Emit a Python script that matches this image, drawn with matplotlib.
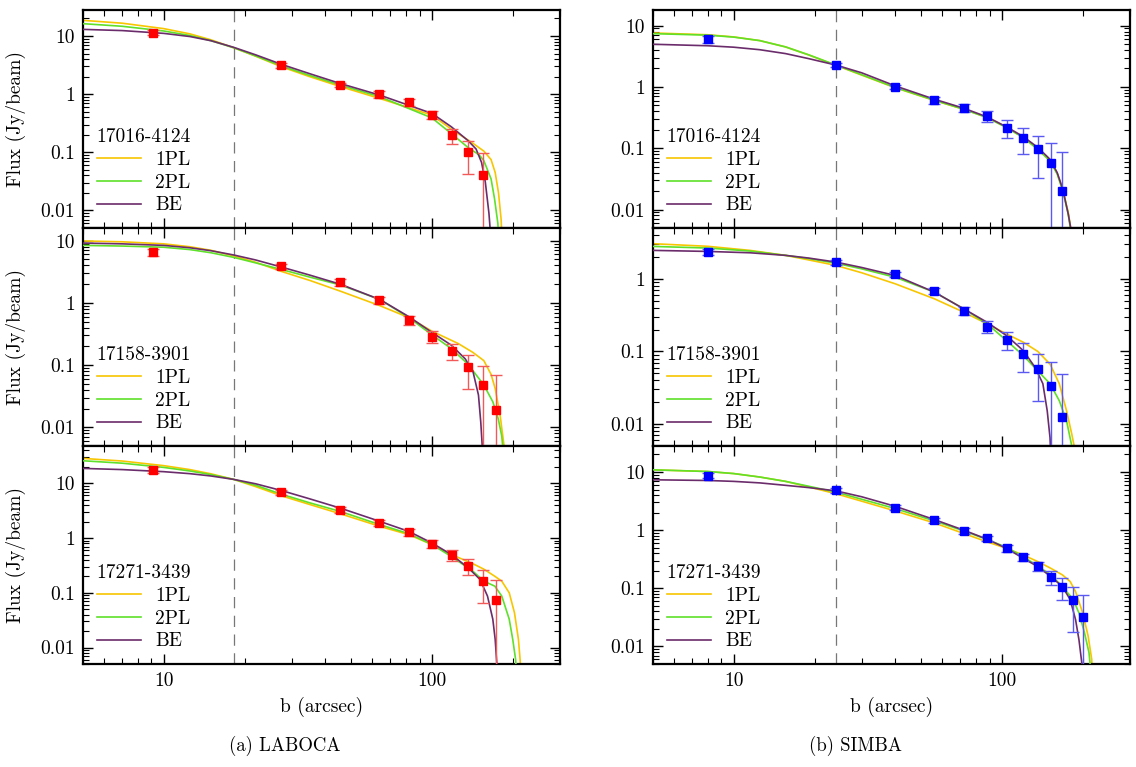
import matplotlib
matplotlib.use("Agg")
import matplotlib.pyplot as plt
from matplotlib.ticker import LogLocator, FuncFormatter, NullFormatter

plt.rcParams['font.family'] = 'serif'
plt.rcParams['font.serif'] = ['cmr10', 'DejaVu Serif']
plt.rcParams['mathtext.fontset'] = 'cm'
plt.rcParams['axes.formatter.use_mathtext'] = True

# ---- LABOCA 17016-4124 ----
la1_b = [9.1, 27.3, 45.5, 63.7, 81.9, 100.1, 118.3, 136.5, 154.7]
la1_f = [11.4, 3.14, 1.45, 1.0, 0.72, 0.44, 0.198, 0.1, 0.041]
la1_e = [1.1, 0.33, 0.13, 0.13, 0.1, 0.065, 0.057, 0.057, 0.055]
la1_1pl_b = [5, 7, 10, 12.5, 15, 18.2, 22, 27.5, 35, 45.6, 64, 100, 118, 140, 156, 166, 172, 177, 181, 183]
la1_1pl_f = [18.6, 16.6, 13.4, 10.9, 8.6, 6.3, 4.5, 2.95, 2.0, 1.35, 0.84, 0.436, 0.25, 0.15, 0.105, 0.075, 0.045, 0.02, 0.007, 0.002]
la1_2pl_b = [5, 7, 10, 12.5, 15, 18.2, 22, 27.5, 35, 45.6, 64, 100, 118, 136, 150, 156, 166, 171, 176, 178]
la1_2pl_f = [16.3, 14.7, 12.2, 10.2, 8.3, 6.3, 4.55, 3.05, 2.1, 1.43, 0.9, 0.39, 0.21, 0.122, 0.09, 0.072, 0.035, 0.016, 0.006, 0.002]
la1_be_b = [5, 7, 10, 12.5, 15, 18.2, 22, 27.5, 35, 45.6, 64, 100, 118, 136, 146, 153, 158, 163, 166]
la1_be_f = [13.0, 12.4, 11.1, 9.8, 8.3, 6.4, 4.75, 3.25, 2.25, 1.52, 0.96, 0.466, 0.275, 0.16, 0.114, 0.067, 0.031, 0.009, 0.003]

# ---- LABOCA 17158-3901 ----
la2_b = [9.1, 27.3, 45.5, 63.7, 81.9, 100.1, 118.3, 136.5, 154.7, 172.9]
la2_f = [6.5, 3.9, 2.14, 1.1, 0.53, 0.288, 0.169, 0.094, 0.047, 0.019]
la2_e = [0.8, 0.37, 0.28, 0.14, 0.09, 0.06, 0.05, 0.052, 0.05, 0.05]
la2_1pl_b = [5, 7, 10, 12.5, 15, 18.2, 22, 27.5, 35, 45.6, 64, 82, 100, 125, 142, 156, 166, 172, 179.5, 185, 188, 190]
la2_1pl_f = [9.9, 9.6, 8.9, 8.0, 7.0, 5.7, 4.5, 3.2, 2.3, 1.54, 0.9, 0.58, 0.35, 0.223, 0.16, 0.118, 0.071, 0.042, 0.0154, 0.0056, 0.003, 0.001]
la2_2pl_b = [5, 7, 10, 12.5, 15, 18.2, 22, 27.5, 35, 45.6, 64, 82, 100, 118, 136, 156, 168.6, 176.6, 182, 187]
la2_2pl_f = [8.4, 8.2, 7.85, 7.2, 6.4, 5.4, 4.4, 3.44, 2.6, 1.94, 1.13, 0.58, 0.306, 0.184, 0.104, 0.048, 0.0256, 0.0136, 0.0072, 0.002]
la2_be_b = [5, 7, 10, 12.5, 15, 18.2, 22, 27.5, 35, 45.6, 64, 82, 100, 118, 133, 142, 149, 152, 155]
la2_be_f = [9.15, 8.9, 8.4, 7.7, 6.9, 5.9, 4.9, 3.76, 2.8, 1.99, 1.13, 0.6, 0.335, 0.209, 0.126, 0.08, 0.033, 0.012, 0.003]

# ---- LABOCA 17271-3439 ----
la3_b = [9.1, 27.3, 45.5, 63.7, 81.9, 100.1, 118.3, 136.5, 154.7, 172.9]
la3_f = [17.5, 6.86, 3.27, 1.87, 1.29, 0.79, 0.49, 0.314, 0.163, 0.074]
la3_e = [2.4, 0.75, 0.37, 0.23, 0.18, 0.14, 0.11, 0.1, 0.097, 0.095]
la3_1pl_b = [5, 7, 10, 12.5, 15, 18.2, 22, 27.5, 35, 45.6, 64, 82, 100, 118, 142, 156, 171.5, 182, 194, 203, 210, 213, 216]
la3_1pl_f = [28.5, 25.5, 21, 17.8, 14.9, 11.8, 8.7, 5.9, 4.1, 2.77, 1.63, 1.15, 0.76, 0.5, 0.34, 0.27, 0.2, 0.163, 0.1, 0.043, 0.014, 0.006, 0.002]
la3_2pl_b = [5, 7, 10, 12.5, 15, 18.2, 22, 27.5, 35, 45.6, 64, 82, 100, 118, 142, 156, 171.5, 182, 194, 200, 205, 208]
la3_2pl_f = [25.8, 23.3, 19.5, 16.8, 14.4, 11.8, 9.2, 6.3, 4.4, 3.05, 1.75, 1.2, 0.76, 0.46, 0.248, 0.163, 0.132, 0.087, 0.033, 0.014, 0.006, 0.002]
la3_be_b = [5, 7, 10, 12.5, 15, 18.2, 22, 27.5, 35, 45.6, 64, 82, 100, 118, 136.5, 151, 161, 168.5, 172, 175]
la3_be_f = [18.7, 17.8, 16.3, 15.0, 13.6, 11.8, 9.8, 7.36, 5.2, 3.51, 2.01, 1.32, 0.81, 0.5, 0.285, 0.175, 0.087, 0.033, 0.014, 0.004]

# ---- SIMBA 17016-4124 ----
si1_b = [8, 24, 40, 56, 72, 88, 104, 120, 136, 152, 168]
si1_f = [6.0, 2.28, 1.0, 0.614, 0.46, 0.337, 0.217, 0.146, 0.096, 0.057, 0.0197]
si1_e = [0.7, 0.2, 0.09, 0.08, 0.07, 0.07, 0.068, 0.065, 0.063, 0.064, 0.066]
si1_1pl_b = [5, 8, 10, 12.5, 15.6, 19, 24, 30, 40, 56, 72, 88, 104, 120, 136, 151, 160.6, 168.5, 176.6, 181, 183]
si1_1pl_f = [7.6, 7.1, 6.55, 5.7, 4.5, 3.33, 2.26, 1.56, 0.97, 0.6, 0.432, 0.318, 0.22, 0.15, 0.097, 0.063, 0.039, 0.021, 0.009, 0.0045, 0.002]
si1_2pl_b = [5, 8, 10, 12.5, 15.6, 19, 24, 30, 40, 56, 72, 88, 104, 120, 136, 151, 160.6, 168.5, 176.6, 181, 183]
si1_2pl_f = [7.4, 7.0, 6.5, 5.7, 4.5, 3.35, 2.28, 1.58, 0.98, 0.606, 0.433, 0.316, 0.217, 0.149, 0.096, 0.062, 0.038, 0.02, 0.0084, 0.004, 0.002]
si1_be_b = [5, 8, 10, 12.5, 15.6, 19, 24, 30, 40, 56, 72, 88, 104, 120, 136, 151, 160.6, 168.5, 176.6, 182, 184]
si1_be_f = [4.97, 4.7, 4.45, 4.05, 3.5, 2.9, 2.28, 1.7, 1.04, 0.63, 0.45, 0.324, 0.223, 0.155, 0.103, 0.066, 0.04, 0.0215, 0.0084, 0.004, 0.002]

# ---- SIMBA 17158-3901 ----
si2_b = [8, 24, 40, 56, 72, 88, 104, 120, 136, 152, 168]
si2_f = [2.33, 1.7, 1.15, 0.69, 0.366, 0.22, 0.144, 0.092, 0.057, 0.033, 0.0124]
si2_e = [0.2, 0.14, 0.1, 0.065, 0.045, 0.04, 0.04, 0.04, 0.036, 0.038, 0.037]
si2_1pl_b = [5, 8, 11.5, 15.6, 19, 24, 30, 40, 56, 72, 88, 104, 120, 136, 151, 163.5, 174, 182, 188, 190]
si2_1pl_f = [3.04, 2.8, 2.46, 2.1, 1.82, 1.53, 1.21, 0.853, 0.53, 0.347, 0.24, 0.174, 0.134, 0.1, 0.067, 0.036, 0.0153, 0.0073, 0.004, 0.002]
si2_2pl_b = [5, 8, 11.5, 15.6, 19, 24, 30, 40, 56, 72, 88, 104, 120, 136, 151, 163.5, 174, 182, 185]
si2_2pl_f = [2.79, 2.65, 2.41, 2.1, 1.9, 1.64, 1.37, 1.05, 0.655, 0.386, 0.24, 0.141, 0.088, 0.054, 0.036, 0.021, 0.0111, 0.005, 0.002]
si2_be_b = [5, 8, 11.5, 15.6, 19, 24, 30, 40, 56, 72, 88, 104, 120, 133, 142, 147.4, 151, 153]
si2_be_f = [2.46, 2.38, 2.28, 2.1, 1.93, 1.7, 1.43, 1.11, 0.655, 0.386, 0.252, 0.165, 0.103, 0.06, 0.036, 0.0153, 0.0065, 0.002]

# ---- SIMBA 17271-3439 ----
si3_b = [8, 24, 40, 56, 72, 88, 104, 120, 136, 152, 168, 184, 200]
si3_f = [8.7, 4.83, 2.44, 1.48, 0.97, 0.72, 0.486, 0.341, 0.242, 0.159, 0.107, 0.062, 0.032]
si3_e = [0.8, 0.5, 0.24, 0.15, 0.12, 0.08, 0.06, 0.05, 0.045, 0.043, 0.045, 0.044, 0.045]
si3_1pl_b = [5, 8, 10, 12.5, 15.6, 19, 24, 30, 40, 56, 72, 88, 104, 120, 136, 152, 168, 179.5, 188, 200, 209.5, 216, 218]
si3_1pl_f = [10.9, 10.2, 9.4, 8.2, 6.9, 5.55, 4.24, 3.15, 2.14, 1.33, 0.877, 0.63, 0.486, 0.374, 0.288, 0.221, 0.17, 0.131, 0.088, 0.0376, 0.015, 0.006, 0.002]
si3_2pl_b = [5, 8, 10, 12.5, 15.6, 19, 24, 30, 40, 56, 72, 88, 104, 120, 136, 152, 168, 184, 193.6, 203, 211, 214]
si3_2pl_f = [10.9, 10.2, 9.4, 8.2, 6.9, 5.7, 4.52, 3.4, 2.35, 1.44, 0.97, 0.69, 0.506, 0.35, 0.242, 0.17, 0.107, 0.065, 0.0376, 0.0172, 0.0078, 0.004]
si3_be_b = [5, 8, 10, 12.5, 15.6, 19, 24, 30, 40, 56, 72, 88, 104, 120, 136, 152, 168, 179.5, 188, 193.6, 198.6, 200]
si3_be_f = [7.35, 7.15, 6.9, 6.5, 5.9, 5.4, 4.75, 3.75, 2.57, 1.52, 1.0, 0.7, 0.486, 0.328, 0.236, 0.159, 0.107, 0.064, 0.029, 0.013, 0.005, 0.002]

sources = ['17016-4124', '17158-3901', '17271-3439']
beam = [18.2, 24.0]
ylims = [[(0.005, 28), (0.005, 18)],
         [(0.005, 16), (0.005, 5)],
         [(0.005, 48), (0.005, 28)]]

c1pl = '#f7c600'
c2pl = '#5fe02a'
cbe = '#6b2c6b'

panels = [
    [(la1_b, la1_f, la1_e, la1_1pl_b, la1_1pl_f, la1_2pl_b, la1_2pl_f, la1_be_b, la1_be_f),
     (si1_b, si1_f, si1_e, si1_1pl_b, si1_1pl_f, si1_2pl_b, si1_2pl_f, si1_be_b, si1_be_f)],
    [(la2_b, la2_f, la2_e, la2_1pl_b, la2_1pl_f, la2_2pl_b, la2_2pl_f, la2_be_b, la2_be_f),
     (si2_b, si2_f, si2_e, si2_1pl_b, si2_1pl_f, si2_2pl_b, si2_2pl_f, si2_be_b, si2_be_f)],
    [(la3_b, la3_f, la3_e, la3_1pl_b, la3_1pl_f, la3_2pl_b, la3_2pl_f, la3_be_b, la3_be_f),
     (si3_b, si3_f, si3_e, si3_1pl_b, si3_1pl_f, si3_2pl_b, si3_2pl_f, si3_be_b, si3_be_f)],
]

fig = plt.figure(figsize=(11.36, 7.67), dpi=100)
lefts = [83 / 1136, 653 / 1136]
w = 477 / 1136
h = 218 / 767
bottoms = [1 - 228 / 767, 1 - 446 / 767, 1 - 664 / 767]
pt_col = ['#ff0000', '#0000ff']
err_col = ['#f25a5a', '#5a5af2']

fmt = FuncFormatter(lambda v, p: '%g' % v)

for r in range(3):
    for c in range(2):
        ax = fig.add_axes([lefts[c], bottoms[r], w, h])
        b, f, e, b1, f1, b2, f2, b3, f3 = panels[r][c]
        ax.set_xscale('log')
        ax.set_yscale('log')
        ax.set_xlim(5, 300)
        ax.set_ylim(*ylims[r][c])
        ax.axvline(beam[c], color='#777777', lw=0.9, ls=(0, (9, 6)), zorder=1)
        ax.plot(b1, f1, color=c1pl, lw=1.2, label='1PL', zorder=2)
        ax.plot(b2, f2, color=c2pl, lw=1.2, label='2PL', zorder=3)
        ax.plot(b3, f3, color=cbe, lw=1.2, label='BE', zorder=4)
        ax.errorbar(b, f, yerr=e, fmt='none', ecolor=err_col[c], elinewidth=1,
                    capsize=4.5, capthick=1, zorder=5)
        ax.plot(b, f, 's', color=pt_col[c], ms=6.2, zorder=6)
        leg = ax.legend(loc='lower left', bbox_to_anchor=(0.0, 0.0), frameon=False,
                        title=sources[r], fontsize=14, title_fontsize=14,
                        handlelength=2.3, handletextpad=0.7, labelspacing=0.25,
                        borderpad=0.3, borderaxespad=0.4, alignment='left')
        ax.xaxis.set_major_locator(LogLocator(base=10))
        ax.xaxis.set_minor_locator(LogLocator(base=10, subs=range(2, 10)))
        ax.yaxis.set_major_locator(LogLocator(base=10))
        ax.yaxis.set_minor_locator(LogLocator(base=10, subs=range(2, 10)))
        ax.xaxis.set_major_formatter(fmt)
        ax.yaxis.set_major_formatter(fmt)
        ax.xaxis.set_minor_formatter(NullFormatter())
        ax.yaxis.set_minor_formatter(NullFormatter())
        ax.tick_params(which='both', direction='in', top=True, right=True, labelsize=14)
        ax.tick_params(which='major', length=7, width=1, pad=6)
        ax.tick_params(which='minor', length=4, width=0.8)
        for s in ax.spines.values():
            s.set_linewidth(1.6)
        if r < 2:
            ax.tick_params(labelbottom=False)
        else:
            ax.set_xlabel('b (arcsec)', fontsize=14, labelpad=5)
        if c == 0:
            ax.set_ylabel('Flux (Jy/beam)', fontsize=14, labelpad=10)

fig.text(0.251, 0.028, '(a) LABOCA', ha='center', va='center', fontsize=13.5)
fig.text(0.753, 0.028, '(b) SIMBA', ha='center', va='center', fontsize=13.5)

fig.savefig('out.png', dpi=100)
